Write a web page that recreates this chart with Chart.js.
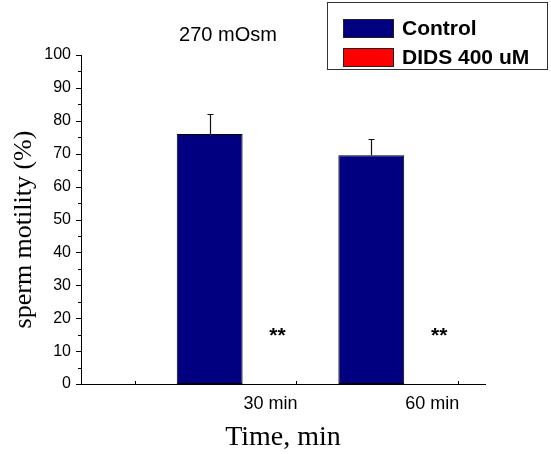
<!DOCTYPE html>
<html>
<head>
<meta charset="utf-8">
<script src="https://cdn.jsdelivr.net/npm/chart.js@4/dist/chart.umd.min.js"></script>
<style>
  html, body { margin: 0; padding: 0; background: #fff; }
  #wrap { position: relative; width: 551px; height: 454px; }
  #c { position: absolute; left: 0; top: 0; }
  #title { position: absolute; left: 128px; width: 200px; top: 23px; text-align: center;
           font: 20px "Liberation Sans", Arial, sans-serif; color: #000; }
  #legend { position: absolute; left: 327px; top: 2px; width: 221px; height: 68px;
            border: 1px solid #333; box-sizing: border-box; }
  .row { position: absolute; left: 15px; height: 20px; display: flex; align-items: center; }
  .sw { width: 51px; height: 19px; border: 1px solid #222; box-sizing: border-box; margin-right: 8px; }
  .lt { font: bold 21px "Liberation Sans", Arial, sans-serif; color: #000; white-space: nowrap; }
</style>
</head>
<body>
<div id="wrap">
  <canvas id="c" width="551" height="454"></canvas>
  <div id="title"></div>
  <div id="legend"></div>
</div>
<script>
// ---- data ----
const chartTitle = '270 mOsm';
const categories = ['30 min', '60 min'];
const times = [30, 60];
const seriesNames = ['Control', 'DIDS 400 uM'];
const controlValues = [76, 69.5];
const controlErrors = [6, 5];
const didsValues = [0, 0];
const sigMarks = ['**', '**'];
const sigLevel = 15.5;
const yTicks = [0, 10, 20, 30, 40, 50, 60, 70, 80, 90, 100];
const xTickMarks = [10, 40, 70];
const colors = ['#000080', '#FF0000'];
const yTitle = 'sperm motility (%)';
const xTitle = 'Time, min';

// ---- title + legend (DOM text) ----
document.getElementById('title').textContent = chartTitle;
const leg = document.getElementById('legend');
seriesNames.forEach((n, i) => {
  const r = document.createElement('div');
  r.className = 'row';
  r.style.top = (15 + i * 29) + 'px';
  const s = document.createElement('div');
  s.className = 'sw'; s.style.background = colors[i];
  const t = document.createElement('div');
  t.className = 'lt'; t.textContent = n;
  r.appendChild(s); r.appendChild(t); leg.appendChild(r);
});

const labelShift = 5.2;

const extras = {
  id: 'extras',
  afterDatasetsDraw(chart) {
    const ctx = chart.ctx;
    const ys = chart.scales.y, xs = chart.scales.x;
    const m0 = chart.getDatasetMeta(0), m1 = chart.getDatasetMeta(1);
    ctx.save();
    // error bars
    ctx.strokeStyle = '#111';
    ctx.lineWidth = 1.2;
    controlValues.forEach((v, i) => {
      const x = Math.round(m0.data[i].x) + 0.5;
      const y0 = ys.getPixelForValue(v);
      const y1 = Math.round(ys.getPixelForValue(v + controlErrors[i])) + 0.5;
      ctx.beginPath();
      ctx.moveTo(x, y0); ctx.lineTo(x, y1);
      ctx.moveTo(x - 3, y1); ctx.lineTo(x + 3, y1);
      ctx.stroke();
    });
    // significance marks
    ctx.fillStyle = '#000';
    ctx.font = 'bold 21px "Liberation Sans", Arial, sans-serif';
    ctx.textAlign = 'center';
    ctx.textBaseline = 'middle';
    sigMarks.forEach((s, i) => {
      ctx.fillText(s, m1.data[i].x + 2, ys.getPixelForValue(sigLevel) + 3);
    });
    // axis tick marks
    ctx.strokeStyle = '#000';
    ctx.lineWidth = 1;
    const left = chart.chartArea.left, bottom = chart.chartArea.bottom;
    for (let v = 0; v <= 100; v += 5) {
      const y = Math.round(ys.getPixelForValue(v)) + 0.5;
      const len = (v % 10 === 0) ? 5 : 3;
      ctx.beginPath(); ctx.moveTo(left - len, y); ctx.lineTo(left, y); ctx.stroke();
    }
    xTickMarks.forEach(t => {
      const x = Math.round(xs.getPixelForValue(t)) + 0.5;
      ctx.beginPath(); ctx.moveTo(x, bottom); ctx.lineTo(x, bottom - 3); ctx.stroke();
    });
    // y axis title
    ctx.save();
    ctx.translate(24, (chart.chartArea.top + chart.chartArea.bottom) / 2 + 10);
    ctx.rotate(-Math.PI / 2);
    ctx.font = '26px "Liberation Serif", "Times New Roman", serif';
    ctx.fillText(yTitle, 0, 0);
    ctx.restore();
    ctx.restore();
  }
};

new Chart(document.getElementById('c'), {
  type: 'bar',
  data: {
    datasets: [
      { label: seriesNames[0], data: times.map((t, i) => ({ x: t, y: controlValues[i] })),
        backgroundColor: colors[0], borderColor: '#000', borderWidth: 1, borderSkipped: false },
      { label: seriesNames[1], data: times.map((t, i) => ({ x: t, y: didsValues[i] })),
        backgroundColor: colors[1], borderColor: '#000', borderWidth: 0 }
    ]
  },
  options: {
    responsive: false,
    animation: false,
    categoryPercentage: 0.815,
    barPercentage: 1,
    layout: { padding: { top: 55, right: 66, left: 0, bottom: 0 } },
    plugins: { legend: { display: false }, tooltip: { enabled: false }, title: { display: false } },
    scales: {
      x: {
        type: 'linear', min: 0, max: 75, offset: false,
        grid: { display: false, offset: false, drawTicks: false },
        border: { display: true, color: '#000', width: 1 },
        afterBuildTicks(scale) {
          scale.ticks = times.map(t => ({ value: t + labelShift }));
        },
        afterFit(scale) { scale.height = 70; },
        ticks: {
          autoSkip: false, maxRotation: 0, padding: 9, color: '#000',
          font: { family: '"Liberation Sans", Arial, sans-serif', size: 18 },
          callback(v, i) { return categories[i]; }
        },
        title: {
          display: true, text: xTitle, color: '#000',
          font: { family: '"Liberation Serif", "Times New Roman", serif', size: 28 },
          padding: { top: 0, bottom: 0 }
        }
      },
      y: {
        min: 0, max: 100,
        afterBuildTicks(scale) { scale.ticks = yTicks.map(v => ({ value: v })); },
        afterFit(scale) { scale.width = 81; },
        grid: { display: false, drawTicks: false },
        border: { display: true, color: '#000', width: 1 },
        ticks: {
          padding: 10, color: '#000',
          font: { family: '"Liberation Sans", Arial, sans-serif', size: 16 }
        },
        title: { display: false }
      }
    }
  },
  plugins: [extras]
});
</script>
</body>
</html>
